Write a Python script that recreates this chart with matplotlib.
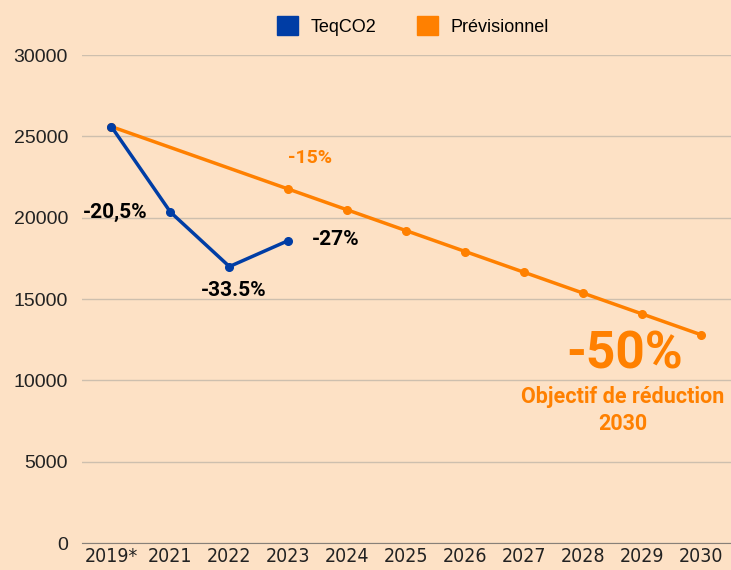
import matplotlib.pyplot as plt
import numpy as np

# Catégories (années)
annees = ['2019*', '2021', '2022', '2023', '2024', '2025', '2026', '2027', '2028', '2029', '2030']

# Emissions réelles (TeqCO2)
teqco2_idx = [0, 1, 2, 3]
teqco2 = [25600, 20350, 17000, 18600]

# Trajectoire prévisionnelle
prev_idx = [0, 3, 4, 5, 6, 7, 8, 9, 10]
previsionnel = [25600, 21760, 20480, 19200, 17920, 16640, 15360, 14080, 12800]

bg = '#FDE1C5'
bleu = '#003DA5'
orange = '#FF8000'

fig = plt.figure(figsize=(7.31, 5.70), dpi=100, facecolor=bg)
ax = fig.add_axes([0.112, 0.047, 0.888, 0.8565], facecolor=bg)

ax.plot(teqco2_idx, teqco2, color=bleu, lw=2.5, marker='o', ms=5.5, label='TeqCO2', zorder=3)
ax.plot(prev_idx, previsionnel, color=orange, lw=2.5, marker='o', ms=5.5, label='Prévisionnel', zorder=2)

ax.set_xlim(-0.5, len(annees) - 0.5)
ax.set_ylim(0, 30000)
ax.set_yticks(np.arange(0, 30001, 5000))
ax.set_xticks(range(len(annees)))
ax.set_xticklabels(annees, family='DejaVu Sans', stretch='condensed', fontsize=14)
for lab in ax.get_yticklabels():
    lab.set_family('Liberation Sans')
    lab.set_fontsize(14)
ax.tick_params(axis='both', length=0, colors='#222222')
ax.tick_params(axis='y', pad=10)
ax.tick_params(axis='x', pad=3)
ax.grid(axis='y', color='#CDBFAE', lw=1)
ax.set_axisbelow(True)
for s in ['top', 'right', 'left']:
    ax.spines[s].set_visible(False)
ax.spines['bottom'].set_color('#888078')

# Annotations
fb = dict(family='Roboto', fontweight='bold')
ax.text(0.06, 20300, '-20,5%', ha='center', va='center', fontsize=15, color='black', **fb)
ax.text(2.07, 15550, '-33.5%', ha='center', va='center', fontsize=15, color='black', **fb)
ax.text(3.8, 18650, '-27%', ha='center', va='center', fontsize=15, color='black', **fb)
ax.text(3.37, 23650, '-15%', ha='center', va='center', fontsize=14, color=orange, **fb)
ax.text(8.7, 11600, '-50%', ha='center', va='center', fontsize=37, color=orange, **fb)
ax.text(8.66, 9650, 'Objectif de réduction\n2030', ha='center', va='top', fontsize=15.5,
        color=orange, linespacing=1.3, **fb)

fig.legend(loc='upper center', bbox_to_anchor=(0.565, 1.0), ncol=2, frameon=False,
           handles=[plt.Rectangle((0, 0), 1, 1, color=bleu), plt.Rectangle((0, 0), 1, 1, color=orange)],
           labels=['TeqCO2', 'Prévisionnel'], prop={'family': 'Liberation Sans', 'size': 13},
           handlelength=1.2, handleheight=1.2, columnspacing=2.2, handletextpad=0.7)

fig.savefig('out.png', dpi=100, facecolor=bg)
